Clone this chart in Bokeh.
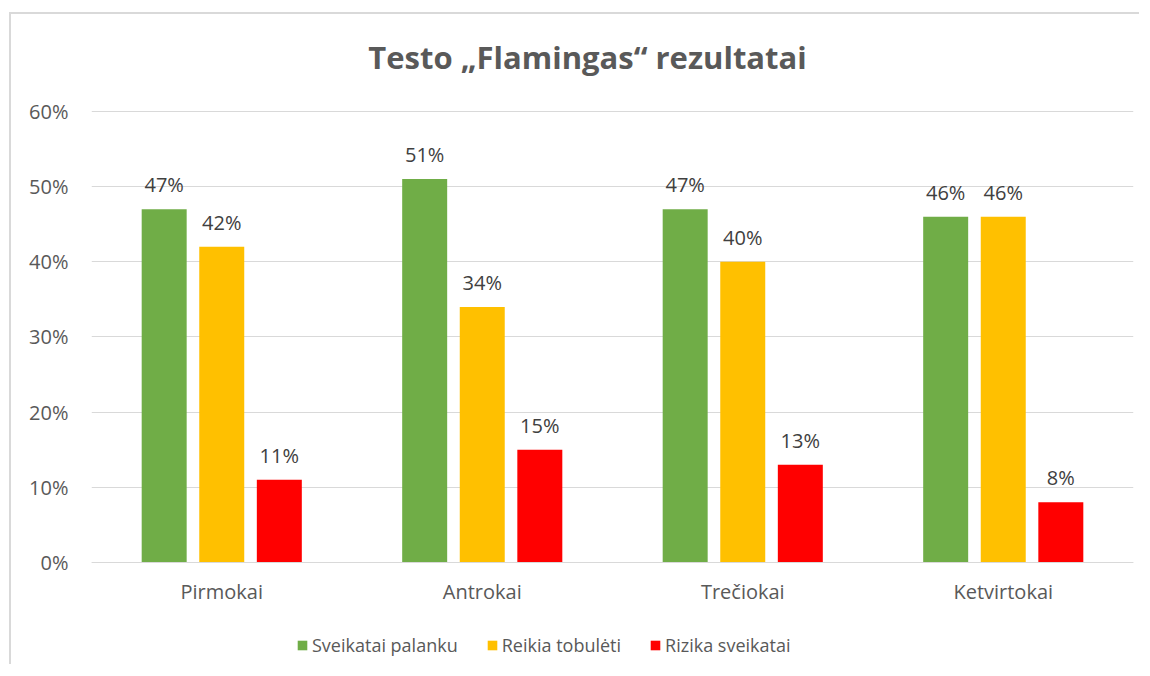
from bokeh.plotting import figure
from bokeh.models import (ColumnDataSource, FactorRange, Range1d, FixedTicker,
                          NumeralTickFormatter, LabelSet, Label, Legend, LegendItem)
from bokeh.transform import dodge
from bokeh.core.properties import value
from bokeh.embed import file_html
from bokeh.resources import INLINE

categories = ["Pirmokai", "Antrokai", "Trečiokai", "Ketvirtokai"]
sveikatai_palanku = [0.47, 0.51, 0.47, 0.46]
reikia_tobuleti = [0.42, 0.34, 0.40, 0.46]
rizika_sveikatai = [0.11, 0.15, 0.13, 0.08]
series_names = ["Sveikatai palanku", "Reikia tobulėti", "Rizika sveikatai"]
colors = ["#70AD47", "#FFC000", "#FF0000"]
y_ticks = [0, 0.1, 0.2, 0.3, 0.4, 0.5, 0.6]
title_text = "Testo „Flamingas“ rezultatai"

FONT = "Open Sans"
GRAY = "#595959"

src = ColumnDataSource(dict(
    cat=categories,
    s1=sveikatai_palanku, s2=reikia_tobuleti, s3=rizika_sveikatai,
    l1=[f"{round(v*100)}%" for v in sveikatai_palanku],
    l2=[f"{round(v*100)}%" for v in reikia_tobuleti],
    l3=[f"{round(v*100)}%" for v in rizika_sveikatai],
))

# the frame spans the whole canvas height so that the title, category axis
# and legend all live inside it (annotations are clipped to the frame)
p = figure(x_range=FactorRange(factors=categories), y_range=Range1d(-0.1357, 0.7290),
           width=1130, height=652, output_backend="svg", toolbar_location=None,
           title=None,
           min_border_left=80, min_border_right=8, min_border_top=0, min_border_bottom=2)
p.margin = (12, 0, 0, 9)
p.styles = {"border-left": "2px solid #d9d9d9", "border-top": "2px solid #d9d9d9"}
p.outline_line_color = None
p.background_fill_color = "white"
p.border_fill_color = "white"

offsets = [-0.221, 0.0, 0.221]
bw = 0.1727
renderers = []
for i, (col, lab) in enumerate([("s1", "l1"), ("s2", "l2"), ("s3", "l3")]):
    r = p.vbar(x=dodge("cat", offsets[i], range=p.x_range), top=col, width=bw,
               source=src, fill_color=colors[i], line_color=None)
    renderers.append(r)
    ls = LabelSet(x=dodge("cat", offsets[i], range=p.x_range), y=col, text=lab,
                  source=src, y_offset=17, text_align="center", text_baseline="alphabetic",
                  text_font=value(FONT), text_font_size="20px", text_color="#404040")
    p.add_layout(ls)

# axes
p.yaxis.ticker = FixedTicker(ticks=y_ticks)
p.yaxis.formatter = NumeralTickFormatter(format="0%")
p.yaxis.axis_line_color = None
p.yaxis.major_tick_line_color = None
p.yaxis.minor_tick_line_color = None
p.yaxis.major_tick_out = 0
p.yaxis.major_label_standoff = 23
p.yaxis.major_label_text_font = FONT
p.yaxis.major_label_text_font_size = "20px"
p.yaxis.major_label_text_color = GRAY

p.xaxis.fixed_location = 0
p.xaxis.axis_line_color = "#d9d9d9"
p.xaxis.axis_line_width = 1
p.xaxis.major_tick_line_color = None
p.xaxis.minor_tick_line_color = None
p.xaxis.major_tick_out = 0
p.xaxis.major_label_standoff = 16
p.xaxis.major_label_text_font = FONT
p.xaxis.major_label_text_font_size = "20px"
p.xaxis.major_label_text_color = GRAY

p.xgrid.grid_line_color = None
p.ygrid.grid_line_color = "#d9d9d9"
p.ygrid.grid_line_width = 1

# title
p.add_layout(Label(x=1.904, y=0.6718, text=title_text, text_align="center",
                   text_baseline="alphabetic", text_font=FONT, text_font_style="bold",
                   text_font_size="31px", text_color=GRAY))

legend = Legend(items=[LegendItem(label=n, renderers=[r]) for n, r in zip(series_names, renderers)],
                location=(205, 7), orientation="horizontal")
legend.padding = 0
legend.margin = 0
legend.spacing = 28
legend.label_standoff = 4
legend.glyph_width = 12
legend.glyph_height = 12
legend.border_line_color = None
legend.background_fill_alpha = 0
legend.label_text_font = FONT
legend.label_text_font_size = "18px"
legend.label_text_color = GRAY
p.add_layout(legend)

open("out.html", "w").write(file_html(p, INLINE))
